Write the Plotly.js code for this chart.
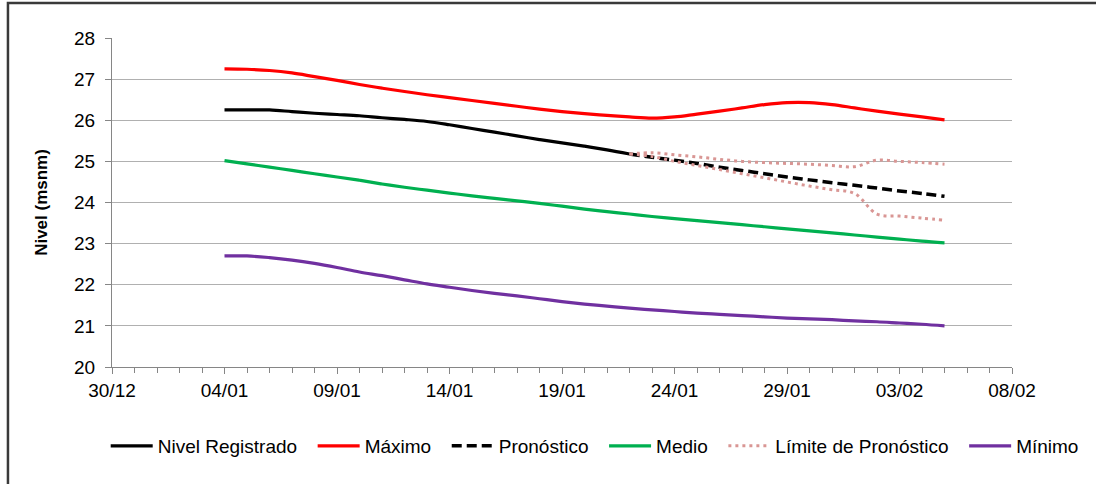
<!DOCTYPE html>
<html>
<head>
<meta charset="utf-8">
<script src="https://cdn.plot.ly/plotly-3.0.1.min.js"></script>
<style>
  html, body { margin: 0; padding: 0; background: #ffffff; }
  #chart { width: 1096px; height: 484px; }
</style>
</head>
<body>
<div id="chart"></div>
<script>
// ---- Data ----
const fechas = [
  '2015-01-04','2015-01-05','2015-01-06','2015-01-07','2015-01-08','2015-01-09','2015-01-10',
  '2015-01-11','2015-01-12','2015-01-13','2015-01-14','2015-01-15','2015-01-16','2015-01-17',
  '2015-01-18','2015-01-19','2015-01-20','2015-01-21','2015-01-22','2015-01-23','2015-01-24',
  '2015-01-25','2015-01-26','2015-01-27','2015-01-28','2015-01-29','2015-01-30','2015-01-31',
  '2015-02-01','2015-02-02','2015-02-03','2015-02-04','2015-02-05'
];
const fechasRegistro = fechas.slice(0, 19);   // 04/01 .. 22/01
const fechasPronostico = fechas.slice(18);    // 22/01 .. 05/02

const nivelRegistrado = [26.25, 26.25, 26.25, 26.21, 26.17, 26.14, 26.11, 26.06, 26.02, 25.97,
  25.89, 25.80, 25.71, 25.62, 25.53, 25.45, 25.37, 25.28, 25.18];

const maximo = [27.25, 27.24, 27.21, 27.15, 27.06, 26.97, 26.87, 26.78, 26.70, 26.62, 26.55,
  26.48, 26.41, 26.34, 26.27, 26.21, 26.16, 26.12, 26.08, 26.05, 26.08, 26.15, 26.22, 26.30,
  26.38, 26.43, 26.43, 26.38, 26.30, 26.22, 26.15, 26.08, 26.01];

const pronostico = [25.18, 25.10, 25.03, 24.95, 24.86, 24.78, 24.70, 24.62, 24.55, 24.48,
  24.42, 24.35, 24.28, 24.22, 24.15];

const medio = [25.02, 24.94, 24.86, 24.78, 24.70, 24.62, 24.54, 24.45, 24.37, 24.30, 24.23,
  24.16, 24.10, 24.04, 23.98, 23.91, 23.84, 23.78, 23.72, 23.66, 23.61, 23.56, 23.51, 23.46,
  23.41, 23.36, 23.31, 23.26, 23.21, 23.16, 23.11, 23.06, 23.02];

const limiteSuperior = [25.18, 25.21, 25.16, 25.11, 25.05, 25.00, 24.97, 24.95, 24.93, 24.90,
  24.87, 25.03, 25.00, 24.97, 24.93];
const limiteInferior = [25.18, 25.12, 25.00, 24.90, 24.80, 24.70, 24.60, 24.50, 24.40, 24.31,
  24.22, 23.72, 23.67, 23.62, 23.57];

const minimo = [22.70, 22.70, 22.66, 22.60, 22.52, 22.42, 22.31, 22.22, 22.12, 22.02, 21.94,
  21.86, 21.79, 21.73, 21.66, 21.59, 21.53, 21.48, 21.43, 21.39, 21.35, 21.31, 21.28, 21.25,
  21.22, 21.19, 21.17, 21.15, 21.12, 21.10, 21.07, 21.04, 21.00];

const yTicks = [20, 21, 22, 23, 24, 25, 26, 27, 28];

const nombres = ['Nivel Registrado', 'Máximo', 'Pronóstico', 'Medio', 'Límite de Pronóstico', 'Mínimo'];

// ---- Styles ----
const FONT = 'Liberation Sans, Arial, sans-serif';
const smooth = { shape: 'spline', smoothing: 1 };
const PAD = '\u00a0\u00a0';   // extra spacing between legend entries

const traces = [
  { x: fechasRegistro, y: nivelRegistrado, name: nombres[0] + PAD, mode: 'lines',
    line: Object.assign({ color: '#000000', width: 3.2 }, smooth) },
  { x: fechas, y: maximo, name: nombres[1] + PAD, mode: 'lines',
    line: Object.assign({ color: '#FF0000', width: 3.2 }, smooth) },
  { x: fechasPronostico, y: pronostico, name: nombres[2] + PAD, mode: 'lines',
    line: Object.assign({ color: '#000000', width: 3.5, dash: '10px,5px' }, smooth) },
  { x: fechas, y: medio, name: nombres[3] + PAD, mode: 'lines',
    line: Object.assign({ color: '#00B050', width: 3.2 }, smooth) },
  { x: fechasPronostico, y: limiteSuperior, name: nombres[4] + PAD, mode: 'lines',
    legendgroup: 'limite',
    line: Object.assign({ color: '#D99694', width: 3, dash: '3px,4px' }, smooth) },
  { x: fechasPronostico, y: limiteInferior, name: nombres[4] + PAD, mode: 'lines',
    legendgroup: 'limite', showlegend: false,
    line: Object.assign({ color: '#D99694', width: 3, dash: '3px,4px' }, smooth) },
  { x: fechas, y: minimo, name: nombres[5], mode: 'lines',
    line: Object.assign({ color: '#7030A0', width: 3.2 }, smooth) }
];

const layout = {
  width: 1096,
  height: 484,
  margin: { l: 112, r: 84, t: 38, b: 117 },
  paper_bgcolor: '#ffffff',
  plot_bgcolor: '#ffffff',
  font: { family: FONT, size: 19, color: '#000000' },
  showlegend: true,
  hovermode: false,
  xaxis: {
    type: 'date',
    range: ['2014-12-30', '2015-02-08'],
    tick0: '2014-12-30',
    dtick: 5 * 86400000,
    tickformat: '%d/%m',
    ticks: 'outside',
    ticklen: 6,
    tickcolor: '#868686',
    showline: true,
    linecolor: '#868686',
    linewidth: 1,
    showgrid: false,
    zeroline: false,
    tickfont: { family: FONT, size: 19, color: '#000000' },
    minor: { dtick: 86400000, tick0: '2014-12-30', ticks: 'outside', ticklen: 5,
             tickcolor: '#868686', showgrid: false }
  },
  yaxis: {
    range: [20, 28],
    tickvals: yTicks,
    ticktext: yTicks.map(String),
    ticks: 'outside',
    ticklen: 6,
    tickcolor: '#868686',
    ticklabelstandoff: 6,
    showline: true,
    linecolor: '#868686',
    linewidth: 1,
    showgrid: true,
    gridcolor: '#B0B0B0',
    gridwidth: 1,
    zeroline: false,
    tickfont: { family: FONT, size: 19, color: '#000000' },
    title: { text: '<b>Nivel (msnm)</b>', font: { family: FONT, size: 17, color: '#000000' },
             standoff: 22 }
  },
  legend: {
    orientation: 'h',
    x: -0.007, xanchor: 'left',
    y: -0.24, yanchor: 'middle',
    font: { family: FONT, size: 19, color: '#000000' },
    itemwidth: 42,
    bgcolor: 'rgba(0,0,0,0)',
    traceorder: 'normal'
  },
  shapes: [
    { type: 'rect', xref: 'paper', yref: 'paper', layer: 'below',
      x0: -0.1156, x1: 1.5, y0: -1, y1: 1.1064,
      line: { color: '#3a3a3a', width: 2.5 }, fillcolor: 'rgba(0,0,0,0)' }
  ]
};

Plotly.newPlot('chart', traces, layout, { staticPlot: true, displayModeBar: false });
</script>
</body>
</html>
